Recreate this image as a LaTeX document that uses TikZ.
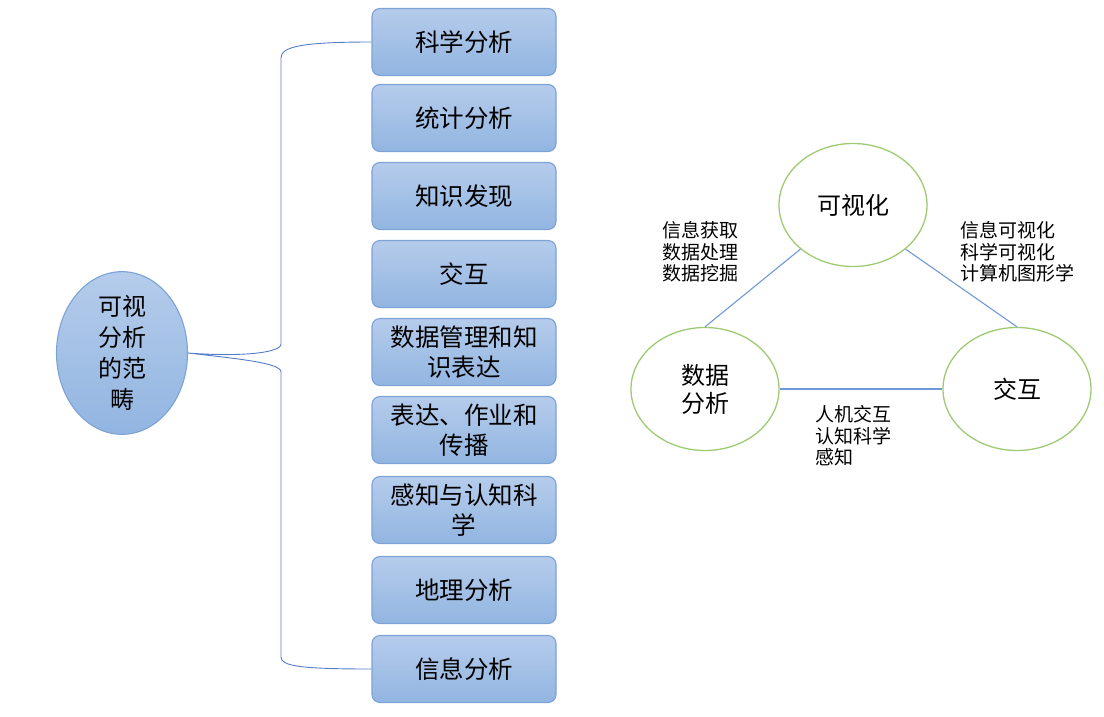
\documentclass[tikz,border=0pt]{standalone}
\usepackage{fontspec}
\setmainfont{Noto Sans CJK SC}
\usepackage{xcolor}
\usetikzlibrary{shapes.geometric}
\definecolor{boxtop}{RGB}{181,204,235}
\definecolor{boxbot}{RGB}{146,181,225}
\definecolor{boxline}{RGB}{124,162,214}
\definecolor{braceline}{RGB}{84,124,204}
\definecolor{triline}{RGB}{112,152,216}
\definecolor{ringgreen}{RGB}{158,202,115}
\tikzset{
  topic/.style={draw=boxline, line width=1.1pt, rounded corners=8pt,
    top color=boxtop, bottom color=boxbot, minimum width=184pt,
    minimum height=67pt, inner sep=0pt, align=center,
    font=\fontsize{24.5}{30}\selectfont},
  ring/.style={ellipse, draw=ringgreen, line width=1.3pt, minimum width=148pt,
    minimum height=123pt, inner sep=0pt, align=center,
    font=\fontsize{24}{28}\selectfont},
  note/.style={anchor=west, inner sep=0pt, align=left,
    font=\fontsize{19}{21.5}\selectfont}
}
\begin{document}
\begin{tikzpicture}[x=1pt, y=-1pt]
            \useasboundingbox (0,0) rectangle (1104,716);

            %Nodes
            \node[ellipse, draw=boxline, line width=1.1pt, top color=boxtop,
              bottom color=boxbot, minimum width=131pt, minimum height=152pt,
              inner sep=0pt, align=center, font=\fontsize{24}{31}\selectfont]
              at (122,353) (cat) {可视\\分析\\的范\\畴};
            \node[topic] at (464,42) (sci) {科学分析};
            \node[topic] at (464,118) (stat) {统计分析};
            \node[topic] at (464,196) (know) {知识发现};
            \node[topic] at (464,274) (inter) {交互};
            \node[topic] at (464,352) (mgmt) {数据管理和知\\识表达};
            \node[topic] at (464,430) (expr) {表达、作业和\\传播};
            \node[topic] at (464,510) (cogn) {感知与认知科\\学};
            \node[topic] at (464,590) (geo) {地理分析};
            \node[topic] at (464,669) (info) {信息分析};

            \node[ring] at (853,205) (vis) {可视化};
            \node[ring] at (705,389) (data) {数据\\分析};
            \node[ring] at (1017,389) (act) {交互};

            \node[note] at (662,252) (n1) {信息获取\\数据处理\\数据挖掘};
            \node[note] at (960,252) (n2) {信息可视化\\科学可视化\\计算机图形学};
            \node[note] at (815,436) (n3) {人机交互\\认知科学\\感知};

            %Lines
            \draw[braceline, line width=0.9pt] (sci.west)
              .. controls (300,42) and (281,47) .. (281,58) -- (281,344)
              .. controls (281,353) and (240,357) .. (cat.east)
              .. controls (240,359) and (281,363) .. (281,372) -- (281,657)
              .. controls (281,666) and (300,669) .. (info.west);
            \draw[triline, line width=1.1pt] (vis.220) -- (data.north);
            \draw[triline, line width=1.1pt] (vis.320) -- (act.north);
            \draw[triline, line width=1.1pt] (data.east) -- (act.west);
        \end{tikzpicture}
\end{document}
